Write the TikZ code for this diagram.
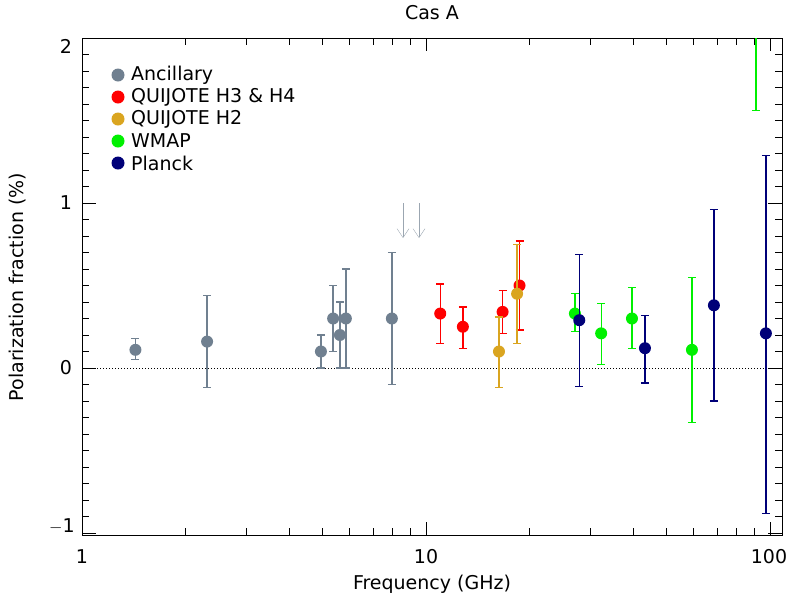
\documentclass[tikz,border=0pt]{standalone}
\usepackage{fontspec}
\setmainfont{DejaVu Sans}
\usetikzlibrary{arrows.meta}
\definecolor{ancil}{RGB}{112,128,144}
\definecolor{qhf}{RGB}{255,0,0}
\definecolor{qhtwo}{RGB}{218,165,32}
\definecolor{wmap}{RGB}{0,240,0}
\definecolor{planck}{RGB}{0,0,120}
\tikzset{
  dotpt/.style={circle,inner sep=0pt,minimum size=13pt},
  errbar/.style={line width=1.3pt},
  lbl/.style={font=\fontsize{19}{22}\selectfont,inner sep=0pt},
}
% frequency (GHz) and fraction (%) to picture coordinates
\newcommand\fx[1]{\pgfmathsetmacro\xx{82+344*log10(#1)}}
\newcommand\py[2]{\pgfmathsetmacro#1{368-165*(#2)}}

\begin{document}
\begin{tikzpicture}[x=1pt,y=-1pt]
    \useasboundingbox (0,0) rectangle (790,606);

    % frame and ticks
    \draw[line width=1pt] (82,38) rectangle (782,535);
    \foreach \f in {2,3,...,9,20,30,...,100} {
        \fx{\f}
        \draw (\xx,535) -- (\xx,528);
        \draw (\xx,38) -- (\xx,45);
    }
    \foreach \f in {10,100} {
        \fx{\f}
        \draw (\xx,535) -- (\xx,522);
        \draw (\xx,38) -- (\xx,51);
    }
    \foreach \v in {-0.9,-0.8,...,1.95} {
        \py\yy{\v}
        \draw (82,\yy) -- (89,\yy);
        \draw (782,\yy) -- (775,\yy);
    }
    \foreach \v in {-1,0,1} {
        \py\yy{\v}
        \draw (82,\yy) -- (96,\yy);
        \draw (782,\yy) -- (768,\yy);
    }
    \draw[dotted,line width=1pt] (82,368) -- (782,368);

    % tick labels
    \node[lbl] (t2) at (66,46) {2};
    \node[lbl] (t1) at (66,203) {1};
    \node[lbl] (t0) at (66,368) {0};
    \node[lbl] (tm1) at (62,526) {$-$1};
    \node[lbl] (f1) at (82,557) {1};
    \node[lbl] (f10) at (426,557) {10};
    \node[lbl] (f100) at (769,557) {100};
    \node[lbl] (xlab) at (432,584) {Frequency (GHz)};
    \node[lbl,rotate=90] (ylab) at (18,287) {Polarization fraction (\%)};
    \node[lbl] (title) at (432,13) {Cas A};

    % upper limits
    \coordinate (ua1) at (403,203);
    \coordinate (ub1) at (403,238);
    \coordinate (ua2) at (419,203);
    \coordinate (ub2) at (419,238);
    \draw[ancil!70,-{Straight Barb[length=9pt,width=12pt]}] (ua1) -- (ub1);
    \draw[ancil!70,-{Straight Barb[length=9pt,width=12pt]}] (ua2) -- (ub2);

    % data points: frequency/value/low/high
    \foreach \c/\pts in {
        ancil/{1.43/0.11/0.05/0.18, 2.31/0.16/-0.12/0.44, 4.95/0.1/0/0.2,
               5.37/0.3/0.1/0.5, 5.62/0.2/0/0.4, 5.85/0.3/0/0.6, 7.96/0.3/-0.1/0.7},
        qhf/{11.0/0.33/0.15/0.51, 12.8/0.25/0.12/0.37, 16.7/0.34/0.21/0.47, 18.7/0.5/0.23/0.77},
        qhtwo/{16.3/0.1/-0.12/0.31, 18.4/0.45/0.15/0.75},
        wmap/{27.1/0.33/0.22/0.45, 32.3/0.21/0.02/0.39, 39.7/0.3/0.12/0.49, 59.3/0.11/-0.33/0.55},
        planck/{27.9/0.29/-0.11/0.69, 43.3/0.12/-0.09/0.32, 68.7/0.38/-0.2/0.96, 97.3/0.21/-0.88/1.29}} {
        \foreach \f/\v/\lo/\hi in \pts {
            \fx{\f}\py\yv{\v}\py\yl{\lo}\py\yh{\hi}
            \draw[\c,errbar] (\xx,\yl) -- (\xx,\yh);
            \draw[\c,errbar] (\xx-4,\yl) -- (\xx+4,\yl);
            \draw[\c,errbar] (\xx-4,\yh) -- (\xx+4,\yh);
            \fill[\c] (\xx,\yv) circle (6);
        }
    }
    % point above the frame
    \fx{91}\py\yl{1.56}
    \draw[wmap,errbar] (\xx,\yl) -- (\xx,38);
    \draw[wmap,errbar] (\xx-4,\yl) -- (\xx+4,\yl);

    % legend
    \foreach \c/\t [count=\i] in {ancil/Ancillary, qhf/QUIJOTE H3 \& H4,
                                  qhtwo/QUIJOTE H2, wmap/WMAP, planck/Planck} {
        \pgfmathsetmacro\yy{53+22*\i}
        \node[dotpt,fill=\c] (key\i) at (118,\yy) {};
        \node[lbl,anchor=west] (keytext\i) at (131,\yy) {\t};
    }
\end{tikzpicture}
\end{document}
